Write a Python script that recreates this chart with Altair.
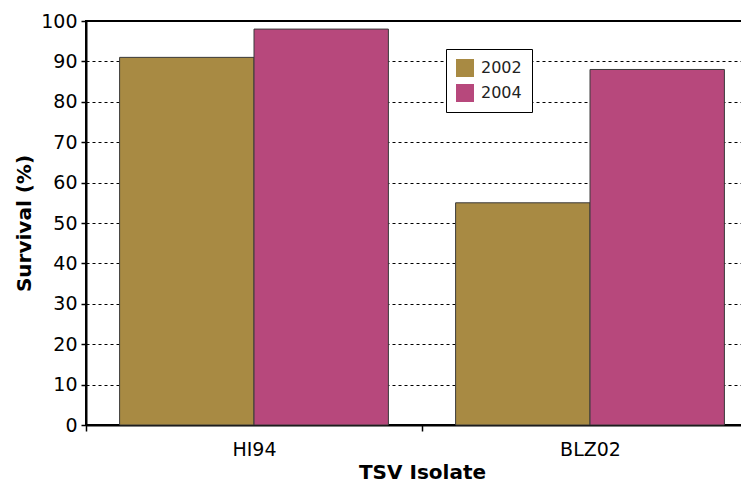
import altair as alt
import pandas as pd

isolates = ["HI94", "HI94", "BLZ02", "BLZ02"]
years = ["2002", "2004", "2002", "2004"]
survival = [91, 98, 55, 88]

year_domain = ["2002", "2004"]
year_colors = ["#A88A43", "#B7487C"]

df = pd.DataFrame({"isolate": isolates, "year": years, "survival": survival})

FONT = "DejaVu Sans"

bars = alt.Chart(df).mark_bar(stroke="#3a3a3a", strokeWidth=1).encode(
    x=alt.X(
        "isolate:N",
        sort=["HI94", "BLZ02"],
        scale=alt.Scale(paddingInner=0, paddingOuter=0),
        axis=alt.Axis(
            title="TSV Isolate",
            labelAngle=0,
            labelFont=FONT,
            labelFontSize=19,
            labelColor="#000000",
            labelPadding=9,
            tickBand="extent",
            tickSize=6,
            tickWidth=1.5,
            tickColor="#000000",
            domainColor="#000000",
            domainWidth=2,
            titleFont=FONT,
            titleFontSize=20,
            titleFontWeight="bold",
            titleColor="#000000",
            titlePadding=3,
            titleX=336,
            grid=False,
        ),
    ),
    xOffset=alt.XOffset("year:N", sort=year_domain,
                        scale=alt.Scale(paddingInner=0, paddingOuter=0.25)),
    y=alt.Y(
        "survival:Q",
        scale=alt.Scale(domain=[0, 100], nice=False),
        axis=alt.Axis(
            title="Survival (%)",
            values=list(range(0, 101, 10)),
            labelFont=FONT,
            labelFontSize=19,
            labelColor="#000000",
            labelPadding=4,
            tickSize=5,
            tickWidth=1.5,
            tickColor="#000000",
            domainColor="#000000",
            domainWidth=2,
            grid=True,
            gridColor="#000000",
            gridDash=[3, 3],
            gridWidth=1,
            titleFont=FONT,
            titleFontSize=20,
            titleFontWeight="bold",
            titleColor="#000000",
            titlePadding=6,
        ),
    ),
    color=alt.Color(
        "year:N",
        scale=alt.Scale(domain=year_domain, range=year_colors),
        legend=alt.Legend(
            title=None,
            orient="none",
            legendX=360,
            legendY=28,
            fillColor="#FFFFFF",
            strokeColor="#000000",
            padding=10,
            symbolType="square",
            symbolSize=324,
            symbolStrokeWidth=0,
            labelFont=FONT,
            labelFontSize=16,
            labelColor="#222222",
            labelOffset=7,
            rowPadding=7,
            cornerRadius=0,
        ),
    ),
)

chart = bars.properties(
    width=672,
    height=404,
    autosize=alt.AutoSizeParams(type="none"),
    padding={"left": 78, "top": 13, "right": -17, "bottom": 60},
    background="#FFFFFF",
).configure_view(
    stroke="#000000",
    strokeWidth=2,
)

chart.save("out.html", embed_options={"renderer": "svg", "actions": False})
